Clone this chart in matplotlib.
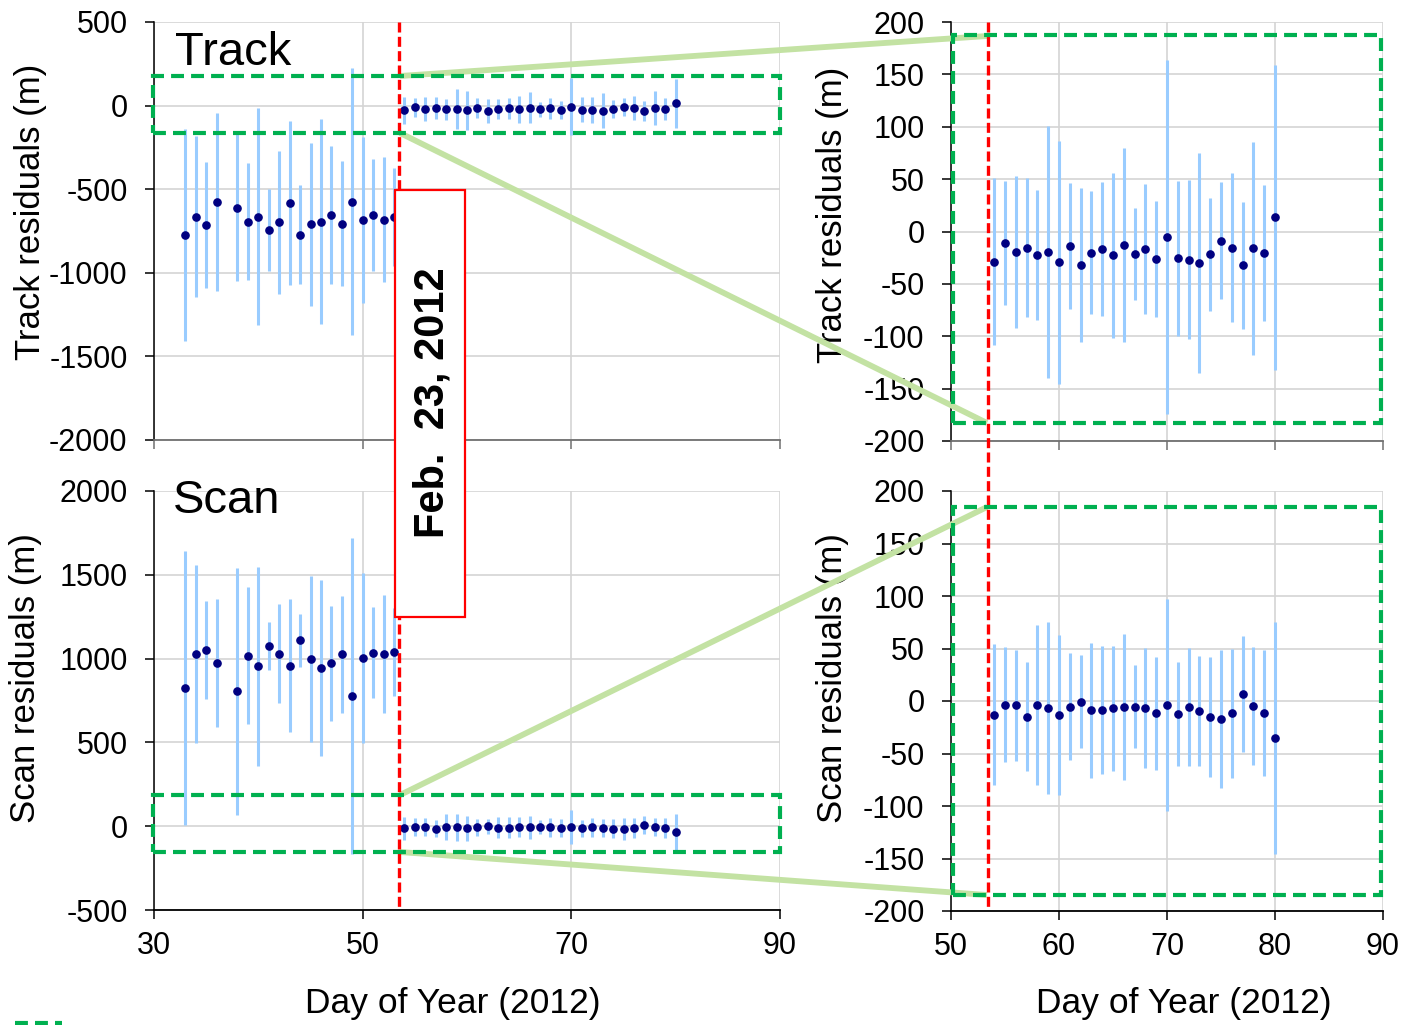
import matplotlib
matplotlib.use("Agg")
import matplotlib.pyplot as plt
from matplotlib.lines import Line2D
from matplotlib.patches import Rectangle
from matplotlib.transforms import blended_transform_factory

plt.rcParams["font.family"] = ["Liberation Sans", "DejaVu Sans"]
plt.rcParams["axes.unicode_minus"] = False

# ---- residuals before the Feb. 23 maneuver ----
days_pre = [33, 34, 35, 36, 38, 39, 40, 41, 42, 43, 44, 45, 46, 47, 48, 49, 50, 51, 52, 53]
track_pre = [-774, -664, -714, -576, -611, -694, -664, -744, -698, -584,
             -772, -710, -694, -654, -706, -575, -686, -656, -682, -664]
track_pre_err = [636, 480, 379, 533, 440, 349, 650, 246, 426, 490,
                 296, 486, 612, 414, 375, 800, 496, 335, 376, 293]
scan_pre = [824, 1027, 1051, 975, 804, 1017, 955, 1075, 1029, 957,
            1109, 999, 941, 971, 1025, 776, 1003, 1035, 1027, 1041]
scan_pre_err = [817, 529, 294, 382, 737, 408, 594, 143, 295, 396,
                157, 495, 525, 345, 350, 943, 508, 270, 353, 263]

# ---- residuals after the maneuver ----
days_post = [54, 55, 56, 57, 58, 59, 60, 61, 62, 63, 64, 65, 66, 67,
             68, 69, 70, 71, 72, 73, 74, 75, 76, 77, 78, 79, 80]
track_post = [-28.7, -10.8, -19.4, -15.3, -22.3, -19.7, -29.3, -14.0, -32.2,
              -20.1, -16.6, -22.9, -12.7, -21.3, -16.6, -26.4, -5.7, -25.5,
              -26.8, -30.3, -21.7, -8.6, -15.3, -32.2, -15.9, -20.4, 13.4]
track_post_err = [79.3, 58.9, 72.5, 66.1, 62.3, 120.0, 115.9, 59.9, 73.7,
                  58.6, 63.7, 78.5, 92.4, 44.0, 62.4, 55.7, 169.0, 74.0,
                  76.3, 105.0, 53.8, 55.4, 71.2, 60.5, 101.6, 64.7, 145.2]
scan_post = [-13.1, -3.5, -4.1, -15.0, -3.8, -6.7, -13.4, -5.4, -0.6,
             -8.6, -8.6, -7.0, -5.7, -5.4, -6.7, -11.8, -4.1, -12.4,
             -5.7, -9.9, -15.6, -17.2, -11.8, 6.7, -4.8, -11.5, -35.0]
scan_post_err = [67.2, 54.8, 53.0, 51.9, 75.8, 82.3, 76.4, 51.1, 44.1,
                 64.3, 61.0, 59.6, 69.3, 39.7, 56.9, 54.0, 101.1, 49.5,
                 56.1, 52.4, 57.2, 65.6, 61.5, 54.8, 56.1, 59.6, 110.7]

maneuver_day = 53.45
xlabel = "Day of Year (2012)"

W, H = 1404, 1025
fig = plt.figure(figsize=(W / 100, H / 100), dpi=100)


def frac(x, y):
    return x / W, 1 - y / H


def axes_rect(x0, y0, x1, y1):
    return [x0 / W, 1 - y1 / H, (x1 - x0) / W, (y1 - y0) / H]


ax_tl = fig.add_axes(axes_rect(154, 22, 780, 440))
ax_bl = fig.add_axes(axes_rect(154, 491, 780, 910))
ax_tr = fig.add_axes(axes_rect(951, 22, 1383, 441))
ax_br = fig.add_axes(axes_rect(951, 491, 1383, 911))

ebar = dict(fmt="o", color="#000080", ecolor="#99ccff", elinewidth=2.2,
            capsize=0, ms=5.2, zorder=3)

for ax, d, v, e in [
    (ax_tl, days_pre + days_post, track_pre + track_post, track_pre_err + track_post_err),
    (ax_bl, days_pre + days_post, scan_pre + scan_post, scan_pre_err + scan_post_err),
    (ax_tr, days_post, track_post, track_post_err),
    (ax_br, days_post, scan_post, scan_post_err),
]:
    ax.errorbar(d, v, yerr=e, **ebar)

ax_tl.set_xlim(30, 90)
ax_bl.set_xlim(30, 90)
ax_tl.set_ylim(-2000, 500)
ax_bl.set_ylim(-500, 2000)
ax_tl.set_yticks(range(-2000, 501, 500))
ax_bl.set_yticks(range(-500, 2001, 500))
for ax in (ax_tl, ax_bl):
    ax.set_xticks([30, 50, 70, 90])

for ax in (ax_tr, ax_br):
    ax.set_xlim(50, 90)
    ax.set_ylim(-200, 200)
    ax.set_xticks([50, 60, 70, 80, 90])
    ax.set_yticks(range(-200, 201, 50))

for ax in (ax_tl, ax_bl, ax_tr, ax_br):
    ax.grid(True, color="#d4d4d4", linewidth=1.2)
    ax.set_axisbelow(True)
    ax.spines["top"].set_visible(False)
    ax.spines["right"].set_visible(False)
    ax.spines["left"].set_color("black")
    ax.spines["left"].set_linewidth(1.1)
    ax.spines["bottom"].set_linewidth(1.3)
    ax.tick_params(axis="both", direction="out", length=6.5, width=1.1,
                   labelsize=22, colors="black")
    ax.tick_params(axis="y", pad=12.5)
    ax.tick_params(axis="x", pad=8.5)

for ax in (ax_tl, ax_tr):
    ax.tick_params(axis="x", labelbottom=False, colors="#707070")
    ax.spines["bottom"].set_color("#707070")
for ax in (ax_bl, ax_br):
    ax.spines["bottom"].set_color("black")

# axis titles
ax_tl.set_ylabel("Track residuals (m)", fontsize=25, ha="center", va="center")
ax_tl.yaxis.set_label_coords(-0.198, 0.545)
ax_bl.set_ylabel("Scan residuals (m)", fontsize=25, ha="center", va="center")
ax_bl.yaxis.set_label_coords(-0.206, 0.554)
ax_tr.set_ylabel("Track residuals (m)", fontsize=25, ha="center", va="center")
ax_tr.yaxis.set_label_coords(-0.275, 0.54)
ax_br.set_ylabel("Scan residuals (m)", fontsize=25, ha="center", va="center")
ax_br.yaxis.set_label_coords(-0.275, 0.555)

ax_bl.set_xlabel(xlabel, fontsize=25.5, va="center")
ax_bl.xaxis.set_label_coords(0.478, -0.224)
ax_br.set_xlabel(xlabel, fontsize=25.5, va="center")
ax_br.xaxis.set_label_coords(0.539, -0.221)

ax_tl.text(0.034, 0.897, "Track", transform=ax_tl.transAxes, fontsize=34,
           va="baseline", ha="left")
ax_bl.text(0.030, 0.947, "Scan", transform=ax_bl.transAxes, fontsize=34,
           va="baseline", ha="left")

# maneuver epoch: dashed red line running through each column of panels
y_top, y_bot = 1 - 22 / H, 1 - 908 / H
for ax in (ax_tl, ax_tr):
    tr = blended_transform_factory(ax.transData, fig.transFigure)
    fig.add_artist(Line2D([maneuver_day, maneuver_day], [y_top, y_bot],
                          transform=tr, color="#ff0000", lw=2.4,
                          linestyle=(0, (3.0, 1.3)), zorder=6))

# zoom windows and their connector lines
green = "#00b050"
light_green = "#c3e2a3"
zoom_lw = 3.0
green_dash = (0, (3.1, 1.7))


def zoom_box(x0, y0, x1, y1):
    (fx0, fy1), (fx1, fy0) = frac(x0, y0), frac(x1, y1)
    fig.add_artist(Rectangle((fx0, fy0), fx1 - fx0, fy1 - fy0,
                             transform=fig.transFigure, fill=False,
                             edgecolor=green, lw=zoom_lw,
                             linestyle=green_dash, zorder=7))


def connector(p0, p1):
    (ax0, ay0), (ax1, ay1) = frac(*p0), frac(*p1)
    fig.add_artist(Line2D([ax0, ax1], [ay0, ay1], transform=fig.transFigure,
                          color=light_green, lw=4.2, zorder=5,
                          solid_capstyle="butt"))


zoom_box(153, 76, 780, 133)
zoom_box(153, 795, 780, 852)
zoom_box(953, 35, 1381, 423)
zoom_box(953, 507, 1381, 895)

connector((400, 76), (987, 36))
connector((400, 133), (987, 423))
connector((400, 795), (987, 507))
connector((400, 852), (987, 895))

# legend sample at the bottom edge
lx0, ly = frac(15, 1023)
lx1, _ = frac(62, 1023)
fig.add_artist(Line2D([lx0, lx1], [ly, ly], transform=fig.transFigure,
                      color=green, lw=zoom_lw, linestyle=green_dash, zorder=7))

# date label box
(bx0, by1), (bx1, by0) = frac(395, 190), frac(465, 617)
fig.add_artist(Rectangle((bx0, by0), bx1 - bx0, by1 - by0,
                         transform=fig.transFigure, facecolor="white",
                         edgecolor="#ff0000", lw=1.6, zorder=8))
tx, ty = frac(432, 403)
fig.text(tx, ty, "Feb.  23, 2012", rotation=90, ha="center", va="center",
         fontsize=30, fontweight="bold", zorder=9)

fig.savefig("out.png", dpi=100)
